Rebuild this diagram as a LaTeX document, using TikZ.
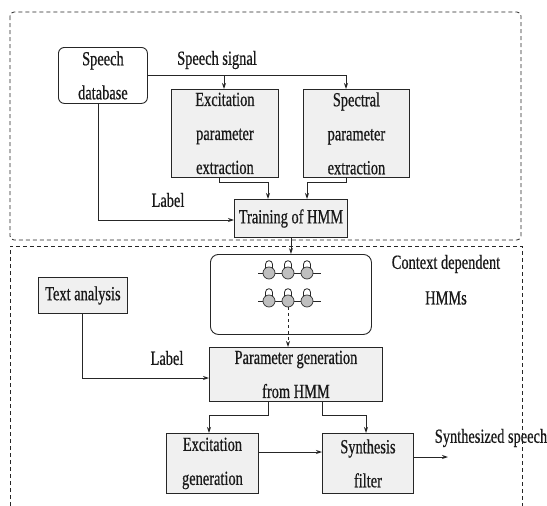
\documentclass[tikz,border=0pt]{standalone}
\usepackage{fontspec}
\setmainfont{Liberation Serif}
\newfontfamily\tf[FakeStretch=0.72,FakeBold=0.6]{Liberation Serif}
\usetikzlibrary{arrows.meta,calc}
\begin{document}
\begin{tikzpicture}[x=1pt,y=-1pt,
  every node/.style={font=\tf\fontsize{20}{34}\selectfont, text=black!90, inner sep=0pt},
  blk/.style={draw=black!85, fill=black!6, line width=0.9pt, align=center, anchor=north west},
  rblk/.style={blk, fill=white, rounded corners=6pt},
  arr/.style={draw=black!85, line width=0.9pt, -{Stealth[length=6pt,width=4pt]}},
  ln/.style={draw=black!85, line width=0.9pt},
  dbox/.style={draw=black!85, line width=0.8pt, dash pattern=on 4pt off 3pt},
  st/.style={circle, draw=black!80, fill=black!25, line width=0.7pt, minimum size=12pt, inner sep=0pt}
]
\useasboundingbox (0,0) rectangle (547,506);

% dashed frames
\draw[dbox, rounded corners=4pt] (10,12) rectangle (521,240);
\draw[dbox] (10,506) -- (10,246) -- (522,246) -- (522,506);

% blocks
\node[rblk, minimum width=89pt, minimum height=56pt] (db) at (58,47) {Speech\\database};
\node[blk, minimum width=107pt, minimum height=88pt] (exc) at (171,89) {Excitation\\parameter\\extraction};
\node[blk, minimum width=106pt, minimum height=88pt] (spec) at (303,89) {Spectral\\parameter\\extraction};
\node[blk, minimum width=113pt, minimum height=38pt] (train) at (234,199) {Training of HMM};
\node[rblk, minimum width=161pt, minimum height=80pt, rounded corners=8pt] (hmm) at (210,254) {};
\node[blk, minimum width=89pt, minimum height=36pt] (ta) at (38,277) {Text analysis};
\node[blk, minimum width=173pt, minimum height=54pt] (param) at (209,347) {Parameter generation\\from HMM};
\node[blk, minimum width=92pt, minimum height=60pt] (eg) at (166,433) {Excitation\\generation};
\node[blk, minimum width=91pt, minimum height=60pt] (sf) at (322,433) {Synthesis\\filter};

% labels
\node (sig) at (217,60) {Speech signal};
\node (lab1) at (168,200) {Label};
\node (lab2) at (167,358) {Label};
\node (ctx) at (446,264) {Context dependent};
\node (hmms) at (446,298) {HMMs};
\node (out) at (491,438) {Synthesized speech};

% HMM state chains
\foreach \rw/\yy in {1/273,2/301} {
  \coordinate (hl\rw) at (258,\yy);
  \coordinate (hr\rw) at (321,\yy);
  \draw[draw=black!85, line width=0.8pt] (hl\rw) -- (hr\rw);
  \foreach \cc/\xx in {1/269,2/288,3/307} {
    \node[st] (s\rw\cc) at (\xx,\yy) {};
    \draw[draw=black!85, line width=0.8pt] ($(s\rw\cc.center)+(-3.5,-4.8)$) -- ++(0,-4) arc[start angle=180,end angle=360,radius=3.5] -- ++(0,4);
  }
}

% connectors
\coordinate (sigA) at (224,75);
\coordinate (sigB) at (346,75);
\draw[ln] (db.east |- sigB) -- (sigB);
\draw[arr] (sigA) -- (sigA |- exc.north);
\draw[arr] (sigB) -- (sigB |- spec.north);
\coordinate (m1) at (219,182); \coordinate (m2) at (268,182);
\draw[arr] (m1 |- exc.south) -- (m1) -- (m2) -- (m2 |- train.north);
\coordinate (m3) at (346,182); \coordinate (m4) at (307,182);
\draw[arr] (m3 |- spec.south) -- (m3) -- (m4) -- (m4 |- train.north);
\coordinate (m5) at (98,220);
\draw[arr] (m5 |- db.south) -- (m5) -- (m5 -| train.west);
\draw[arr] (train.south) -- (train.south |- hmm.north);
\draw[arr, dashed] (s22.south) -- (s22.south |- param.north);
\coordinate (m6) at (82,378);
\draw[arr] (m6 |- ta.south) -- (m6) -- (m6 -| param.west);
\coordinate (m7) at (268,415); \coordinate (m8) at (209,415);
\draw[arr] (m7 |- param.south) -- (m7) -- (m8) -- (m8 |- eg.north);
\coordinate (m9) at (322,415); \coordinate (m10) at (366,415);
\draw[arr] (m9 |- param.south) -- (m9) -- (m10) -- (m10 |- sf.north);
\coordinate (e1) at (258,452);
\draw[arr] (e1 -| eg.east) -- (e1 -| sf.west);
\coordinate (o1) at (448,457);
\draw[arr] (o1 -| sf.east) -- (o1);
\end{tikzpicture}
\end{document}
